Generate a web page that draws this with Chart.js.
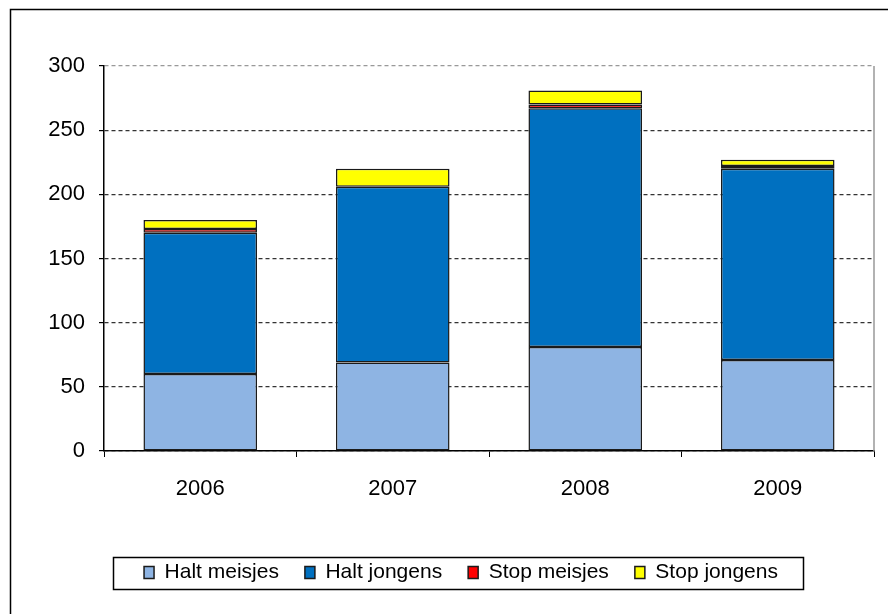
<!DOCTYPE html>
<html>
<head>
<meta charset="utf-8">
<script src="https://cdn.jsdelivr.net/npm/chart.js@4/dist/chart.umd.min.js"></script>
<style>
    html, body { margin: 0; padding: 0; background: #fff; }
    #wrap { width: 888px; height: 614px; position: relative; }
</style>
</head>
<body>
<div id="wrap"><canvas id="the-chart"></canvas></div>
<script>
const years = ["2006", "2007", "2008", "2009"];
const haltMeisjes = [60, 69, 81, 71];
const haltJongens = [110, 137, 186, 149];
const stopMeisjes = [3, 0, 3, 2];
const stopJongens = [7, 14, 11, 5];
const yTicks = [0, 50, 100, 150, 200, 250, 300];

const FONT = "'Liberation Sans', Arial, sans-serif";

// frame around the whole chart, legend box and the grey plot border
const framePlugin = {
    id: 'frame',
    afterDraw(chart) {
        const ctx = chart.ctx;
        const area = chart.chartArea;
        ctx.save();
        ctx.strokeStyle = '#000';
        ctx.lineWidth = 1.5;
        ctx.strokeRect(10.5, 9.5, 900, 640);

        ctx.strokeStyle = '#999';
        ctx.lineWidth = 1.5;
        ctx.beginPath();
        ctx.moveTo(area.right, area.top);
        ctx.lineTo(area.right, area.bottom);
        ctx.stroke();

        const boxes = chart.legend.legendHitBoxes;
        if (boxes && boxes.length) {
            const first = boxes[0];
            const last = boxes[boxes.length - 1];
            const left = first.left - 31;
            const right = last.left + last.width + 25;
            const mid = first.top + first.height / 2;
            ctx.strokeStyle = '#000';
            ctx.lineWidth = 1.5;
            ctx.strokeRect(Math.round(left) + 0.5, Math.round(mid - 16) + 0.5, Math.round(right - left), 32);
        }
        ctx.restore();
    }
};

const datasets = [
    { label: 'Halt meisjes', data: haltMeisjes, backgroundColor: '#8EB4E3' },
    { label: 'Halt jongens', data: haltJongens, backgroundColor: '#0070C0' },
    { label: 'Stop meisjes', data: stopMeisjes, backgroundColor: '#FF0000' },
    { label: 'Stop jongens', data: stopJongens, backgroundColor: '#FFFF00' }
].map(d => Object.assign(d, {
    borderColor: '#1a1a1a',
    borderWidth: c => (c.raw === 0 ? 0 : 1.5),
    borderSkipped: false,
    barPercentage: 1,
    categoryPercentage: 0.59
}));

new Chart(document.getElementById('the-chart'), {
    type: 'bar',
    data: { labels: years, datasets: datasets },
    plugins: [framePlugin],
    options: {
        responsive: true,
        maintainAspectRatio: false,
        animation: false,
        layout: { padding: { left: 48, right: 14, top: 66, bottom: 21 } },
        plugins: {
            tooltip: { enabled: false },
            legend: {
                position: 'bottom',
                labels: {
                    font: { family: FONT, size: 21 },
                    color: '#000',
                    boxWidth: 10,
                    boxHeight: 12,
                    padding: 26
                }
            }
        },
        scales: {
            x: {
                stacked: true,
                afterFit(scale) { scale.height = 85; },
                grid: {
                    offset: true,
                    drawOnChartArea: false,
                    color: '#000',
                    tickLength: 6
                },
                border: { color: '#000', width: 1.5 },
                ticks: {
                    font: { family: FONT, size: 22 },
                    color: '#000',
                    padding: 19
                }
            },
            y: {
                stacked: true,
                min: 0,
                max: 300,
                afterFit(scale) { scale.width = 56; },
                afterBuildTicks(scale) { scale.ticks = yTicks.map(v => ({ value: v })); },
                grid: {
                    color: ctx => (ctx.tick && ctx.tick.value === 300) ? '#999' : '#333',
                    lineWidth: 1.2,
                    tickLength: 5,
                    tickColor: '#000',
                    tickBorderDash: [],
                },
                border: { color: '#000', width: 1.5, dash: [4, 3] },
                ticks: {
                    font: { family: FONT, size: 22 },
                    color: '#000',
                    padding: 14
                }
            }
        }
    }
});
</script>
</body>
</html>
